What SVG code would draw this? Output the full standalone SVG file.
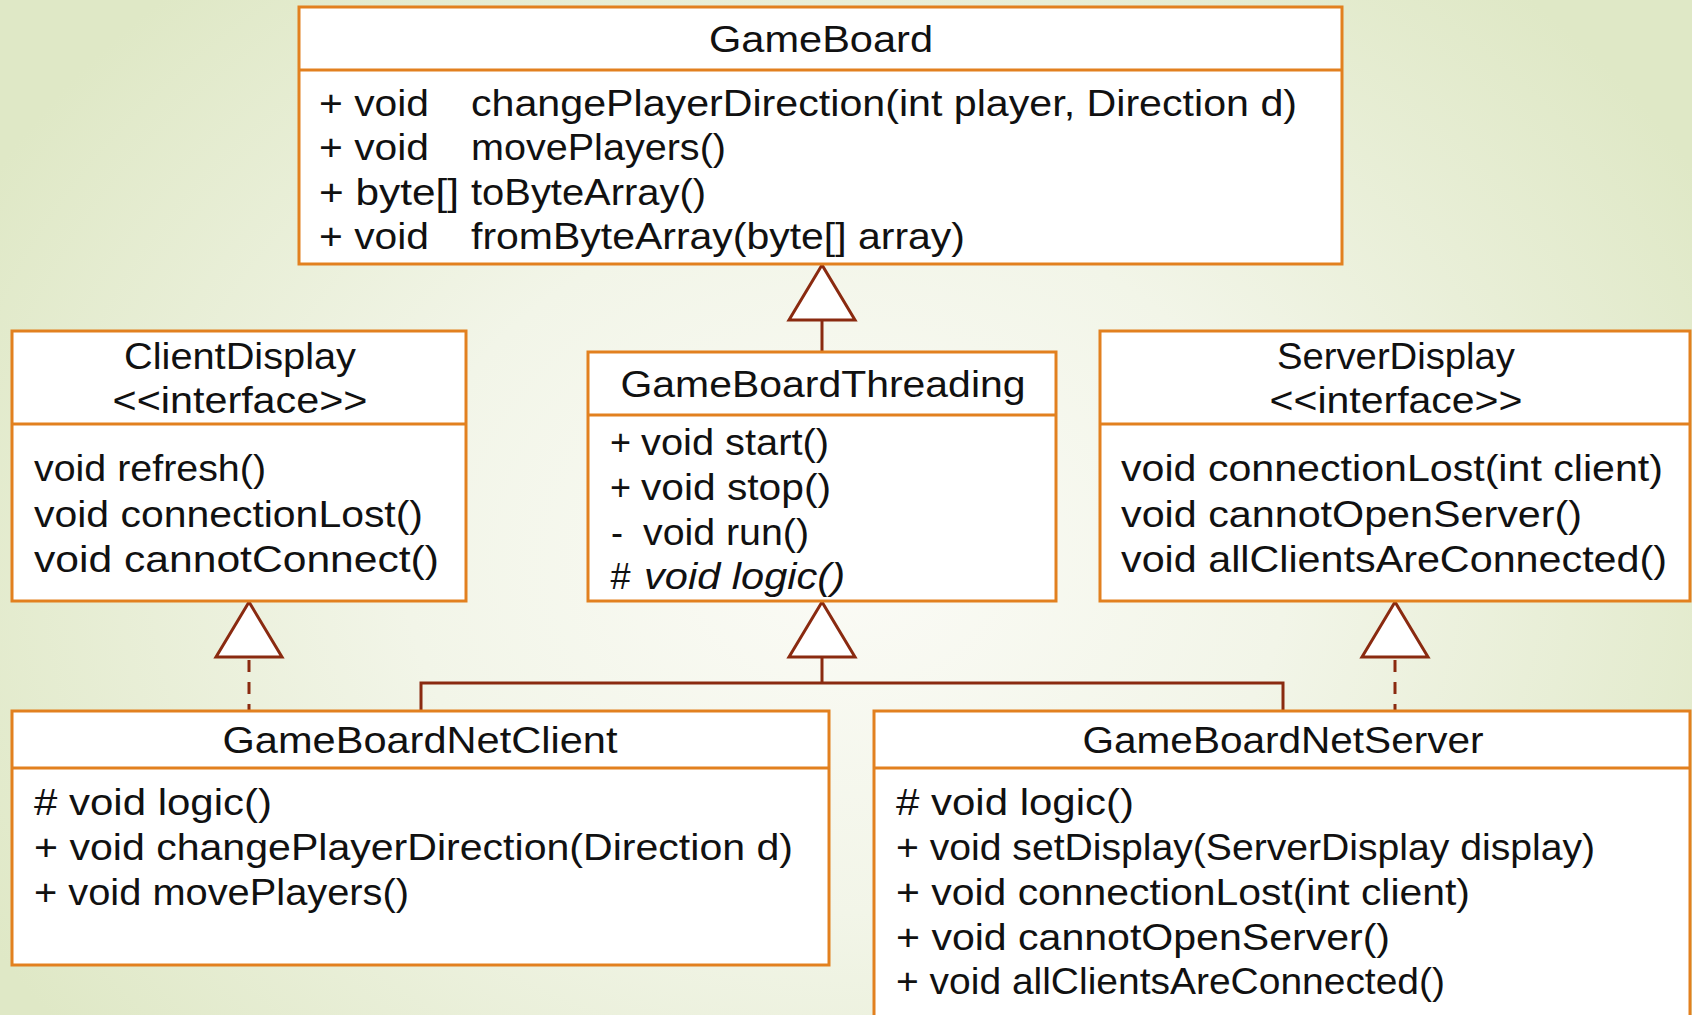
<svg xmlns="http://www.w3.org/2000/svg" width="1692" height="1015" viewBox="0 0 1692 1015">
  <defs>
    <radialGradient id="bg" cx="846" cy="560" r="980" gradientUnits="userSpaceOnUse" gradientTransform="translate(846 560) scale(1 0.8) translate(-846 -560)">
      <stop offset="0" stop-color="#fbfbf6"/>
      <stop offset="0.45" stop-color="#f2f5e8"/>
      <stop offset="1" stop-color="#dfe8c6"/>
    </radialGradient>
    <style>
      .box { fill: #ffffff; stroke: #e2801f; stroke-width: 3; }
      .div { stroke: #e2801f; stroke-width: 3; fill: none; }
      .t { font-family: "Liberation Sans", Arial, sans-serif; font-size: 36px; fill: #111111; }
      .c { text-anchor: middle; }
      .i { font-style: italic; }
      .link { stroke: #8a2a10; stroke-width: 3; fill: none; }
      .dash { stroke-dasharray: 12 10; }
      .tri { fill: #ffffff; stroke: #8a2a10; stroke-width: 3; stroke-linejoin: miter; }
    </style>
  </defs>

  <rect x="0" y="0" width="1692" height="1015" fill="url(#bg)"/>

  <!-- generalization / realization connectors -->
  <g id="connectors">
    <!-- GameBoardThreading extends GameBoard -->
    <line class="link" x1="822" y1="320" x2="822" y2="352"/>
    <polygon class="tri" points="822,265 789,320 855,320"/>
    <!-- GameBoardNetClient / GameBoardNetServer extend GameBoardThreading -->
    <polyline class="link" points="421,711 421,683 1283,683 1283,711"/>
    <line class="link" x1="822" y1="657" x2="822" y2="683"/>
    <polygon class="tri" points="822,602 789,657 855,657"/>
    <!-- GameBoardNetClient implements ClientDisplay -->
    <line class="link dash" x1="249" y1="660" x2="249" y2="711"/>
    <polygon class="tri" points="249,602 216,657 282,657"/>
    <!-- GameBoardNetServer implements ServerDisplay -->
    <line class="link dash" x1="1395" y1="660" x2="1395" y2="711"/>
    <polygon class="tri" points="1395,602 1362,657 1428,657"/>
  </g>

  <g id="GameBoard">
    <rect class="box" x="299" y="7" width="1043" height="257"/>
    <line class="div" x1="299" y1="70" x2="1342" y2="70"/>
    <text class="t c" x="821" y="52" textLength="224" lengthAdjust="spacingAndGlyphs">GameBoard</text>
    <text class="t" x="319" y="116" textLength="110" lengthAdjust="spacingAndGlyphs">+ void</text>
    <text class="t" x="471" y="116" textLength="826" lengthAdjust="spacingAndGlyphs">changePlayerDirection(int player, Direction d)</text>
    <text class="t" x="319" y="160" textLength="110" lengthAdjust="spacingAndGlyphs">+ void</text>
    <text class="t" x="471" y="160" textLength="255" lengthAdjust="spacingAndGlyphs">movePlayers()</text>
    <text class="t" x="319" y="205" textLength="140" lengthAdjust="spacingAndGlyphs">+ byte[]</text>
    <text class="t" x="471" y="205" textLength="235" lengthAdjust="spacingAndGlyphs">toByteArray()</text>
    <text class="t" x="319" y="249" textLength="110" lengthAdjust="spacingAndGlyphs">+ void</text>
    <text class="t" x="471" y="249" textLength="494" lengthAdjust="spacingAndGlyphs">fromByteArray(byte[] array)</text>
  </g>

  <g id="ClientDisplay">
    <rect class="box" x="12" y="331" width="454" height="270"/>
    <line class="div" x1="12" y1="424" x2="466" y2="424"/>
    <text class="t c" x="240" y="369" textLength="232" lengthAdjust="spacingAndGlyphs">ClientDisplay</text>
    <text class="t c" x="240" y="413" textLength="255" lengthAdjust="spacingAndGlyphs">&lt;&lt;interface&gt;&gt;</text>
    <text class="t" x="34" y="481" textLength="232" lengthAdjust="spacingAndGlyphs">void refresh()</text>
    <text class="t" x="34" y="527" textLength="389" lengthAdjust="spacingAndGlyphs">void connectionLost()</text>
    <text class="t" x="34" y="572" textLength="405" lengthAdjust="spacingAndGlyphs">void cannotConnect()</text>
  </g>

  <g id="GameBoardThreading">
    <rect class="box" x="588" y="352" width="468" height="249"/>
    <line class="div" x1="588" y1="415" x2="1056" y2="415"/>
    <text class="t c" x="823" y="397" textLength="405" lengthAdjust="spacingAndGlyphs">GameBoardThreading</text>
    <text class="t" y="455"><tspan x="610">+</tspan><tspan x="641" textLength="188" lengthAdjust="spacingAndGlyphs">void start()</tspan></text>
    <text class="t" y="500"><tspan x="610">+</tspan><tspan x="641" textLength="190" lengthAdjust="spacingAndGlyphs">void stop()</tspan></text>
    <text class="t" y="545"><tspan x="611">-</tspan><tspan x="643" textLength="166" lengthAdjust="spacingAndGlyphs">void run()</tspan></text>
    <text class="t i" y="589"><tspan x="610">#</tspan><tspan x="644" textLength="201" lengthAdjust="spacingAndGlyphs">void logic()</tspan></text>
  </g>

  <g id="ServerDisplay">
    <rect class="box" x="1100" y="331" width="590" height="270"/>
    <line class="div" x1="1100" y1="424" x2="1690" y2="424"/>
    <text class="t c" x="1396" y="369" textLength="238" lengthAdjust="spacingAndGlyphs">ServerDisplay</text>
    <text class="t c" x="1396" y="413" textLength="253" lengthAdjust="spacingAndGlyphs">&lt;&lt;interface&gt;&gt;</text>
    <text class="t" x="1121" y="481" textLength="542" lengthAdjust="spacingAndGlyphs">void connectionLost(int client)</text>
    <text class="t" x="1121" y="527" textLength="461" lengthAdjust="spacingAndGlyphs">void cannotOpenServer()</text>
    <text class="t" x="1121" y="572" textLength="546" lengthAdjust="spacingAndGlyphs">void allClientsAreConnected()</text>
  </g>

  <g id="GameBoardNetClient">
    <rect class="box" x="12" y="711" width="817" height="254"/>
    <line class="div" x1="12" y1="768" x2="829" y2="768"/>
    <text class="t c" x="420" y="753" textLength="395" lengthAdjust="spacingAndGlyphs">GameBoardNetClient</text>
    <text class="t" x="34" y="815" textLength="238" lengthAdjust="spacingAndGlyphs"># void logic()</text>
    <text class="t" x="34" y="860" textLength="759" lengthAdjust="spacingAndGlyphs">+ void changePlayerDirection(Direction d)</text>
    <text class="t" x="34" y="905" textLength="375" lengthAdjust="spacingAndGlyphs">+ void movePlayers()</text>
  </g>

  <g id="GameBoardNetServer">
    <rect class="box" x="874" y="711" width="816" height="330"/>
    <line class="div" x1="874" y1="768" x2="1690" y2="768"/>
    <text class="t c" x="1283" y="753" textLength="401" lengthAdjust="spacingAndGlyphs">GameBoardNetServer</text>
    <text class="t" x="896" y="815" textLength="238" lengthAdjust="spacingAndGlyphs"># void logic()</text>
    <text class="t" x="896" y="860" textLength="699" lengthAdjust="spacingAndGlyphs">+ void setDisplay(ServerDisplay display)</text>
    <text class="t" x="896" y="905" textLength="574" lengthAdjust="spacingAndGlyphs">+ void connectionLost(int client)</text>
    <text class="t" x="896" y="950" textLength="494" lengthAdjust="spacingAndGlyphs">+ void cannotOpenServer()</text>
    <text class="t" x="896" y="994" textLength="549" lengthAdjust="spacingAndGlyphs">+ void allClientsAreConnected()</text>
  </g>
</svg>
